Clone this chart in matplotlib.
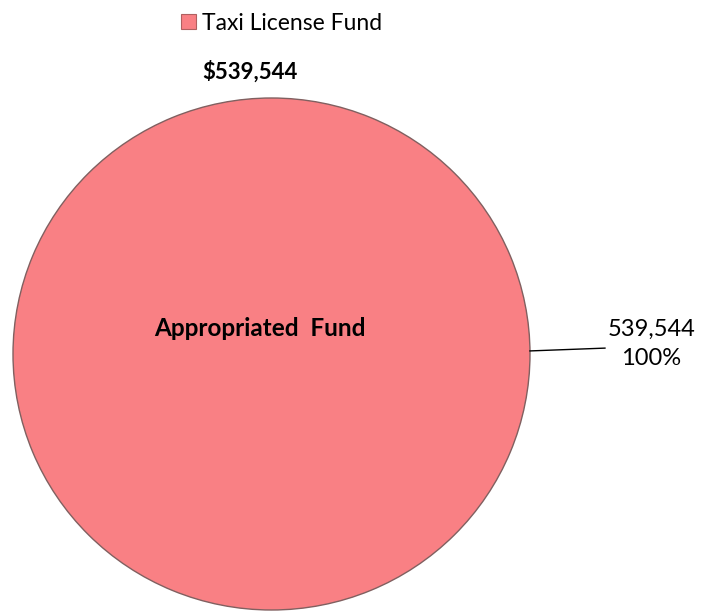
import matplotlib.pyplot as plt
from matplotlib.patches import Patch

plt.rcParams['font.family'] = ['Lato', 'DejaVu Sans']

# fund data
funds = ['Appropriated  Fund']
amounts = [539544]
legend_title = 'Taxi License Fund'
total_label = '$539,544'

W, H = 701, 614
fig = plt.figure(figsize=(W / 100, H / 100), dpi=100)
fig.patch.set_facecolor('white')

# pie axes placed in pixel units
left, right, top, bottom = 13, 530, 98, 610
ax = fig.add_axes([left / W, (H - bottom) / H, (right - left) / W, (bottom - top) / H])

wedges, _ = ax.pie(amounts, colors=['#f98084'], startangle=90, counterclock=False,
                   radius=1.0, wedgeprops=dict(edgecolor='#806060', linewidth=1.0))
ax.set_aspect('auto')
ax.set_xlim(-1, 1)
ax.set_ylim(-1, 1)
ax.axis('off')

# category name in the middle of the slice
ax.text(-0.046, 0.10, funds[0], ha='center', va='center', fontsize=17.5, fontweight='bold')

# data label with leader line
total = sum(amounts)
pct = amounts[0] / total * 100
ax.plot([1.0, 1.29], [0.012, 0.023], color='black', lw=1.0, clip_on=False)
ax.text(1.47, 0.04, f'{amounts[0]:,}\n{pct:.0f}%', ha='center', va='center',
        fontsize=17, linespacing=1.45, multialignment='center')

# total on top
fig.text(250 / W, 1 - 72 / H, total_label, ha='center', va='center',
         fontsize=16, fontweight='bold')

# legend
handle = Patch(facecolor='#f98084', edgecolor='#b06060', linewidth=0.8)
fig.legend([handle], [legend_title], loc='center left',
           bbox_to_anchor=(170 / W, 1 - 23 / H), frameon=False, fontsize=16.5,
           handlelength=0.65, handleheight=0.65, handletextpad=0.25, borderpad=0)

fig.savefig('out.png', dpi=100)
